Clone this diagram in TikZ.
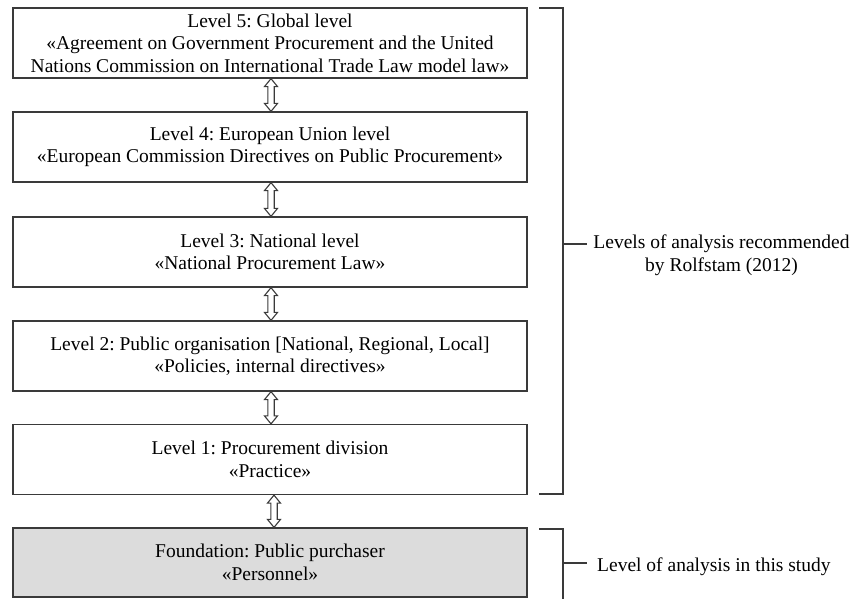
\documentclass[tikz,border=0pt]{standalone}
\usepackage{fontspec}
\setmainfont{Liberation Serif}
\usetikzlibrary{calc}
\frenchspacing
\definecolor{linegray}{HTML}{3A3A3A}
\definecolor{fillgray}{HTML}{DCDCDC}
\tikzset{
  levelbox/.style={draw=linegray, line width=1.2pt, minimum width=514pt, minimum height=70pt,
    align=center, inner sep=0pt, font=\frenchspacing\fontsize{19.5pt}{22.5pt}\selectfont},
  basebox/.style={levelbox, fill=fillgray, minimum height=69pt},
  hollow/.style={draw=linegray, line width=1.1pt, fill=white, line join=miter},
  bracket/.style={draw=linegray, line width=1.2pt},
  sidelabel/.style={align=center, inner sep=0pt, font=\frenchspacing\fontsize{19.5pt}{23pt}\selectfont}
}
\newcommand\hollowarrow[3]{%
  \path (#1.south) ++(#3,0) coordinate (t-#1);
  \path (#2.north) ++(#3,0) coordinate (b-#1);
  \draw[hollow] (t-#1) -- ++(6.5,8) -- ++(-3.3,0) -- ($(b-#1)+(3.2,-8)$) -- ++(3.3,0) -- (b-#1)
     -- ++(-6.5,-8) -- ++(3.3,0) -- ($(t-#1)+(-3.2,8)$) -- ++(-3.3,0) -- cycle;
}
\begin{document}
\begin{tikzpicture}[x=1pt,y=-1pt]
\useasboundingbox (0,0) rectangle (853,598);
\node[levelbox] (l5) at (270,43) {Level 5: Global level\\«Agreement on Government Procurement and the United\\Nations Commission on International Trade Law model law»};
\node[levelbox] (l4) at (270,147) {Level 4: European Union level\\«European Commission Directives on Public Procurement»};
\node[levelbox] (l3) at (270,252) {Level 3: National level\\«National Procurement Law»};
\node[levelbox] (l2) at (270,356) {Level 2: Public organisation [National, Regional, Local]\\«Policies, internal directives»};
\node[levelbox] (l1) at (270,459.5) {Level 1: Procurement division\\«Practice»};
\node[basebox] (f0) at (270,562.5) {Foundation: Public purchaser\\«Personnel»};

\hollowarrow{l5}{l4}{1}
\hollowarrow{l4}{l3}{1}
\hollowarrow{l3}{l2}{1}
\hollowarrow{l2}{l1}{1}
\hollowarrow{l1}{f0}{4}

% brackets
\coordinate (br1a) at (539,8);
\coordinate (br1b) at (563,8);
\coordinate (br1c) at (563,494);
\coordinate (br1d) at (539,494);
\coordinate (br1m) at (563,244);
\coordinate (br1t) at (587,244);
\draw[bracket] (br1a) -- (br1b) -- (br1c) -- (br1d);
\draw[bracket] (br1m) -- (br1t);
\node[sidelabel] (lab1) at (721.5,255.5) {Levels of analysis recommended\\by Rolfstam (2012)};

\coordinate (br2a) at (539,529);
\coordinate (br2b) at (563,529);
\coordinate (br2c) at (563,600);
\coordinate (br2m) at (563,563);
\coordinate (br2t) at (587,563);
\draw[bracket] (br2a) -- (br2b) -- (br2c);
\draw[bracket] (br2m) -- (br2t);
\node[sidelabel, anchor=west] (lab2) at (597,567) {Level of analysis in this study};
\end{tikzpicture}
\end{document}
